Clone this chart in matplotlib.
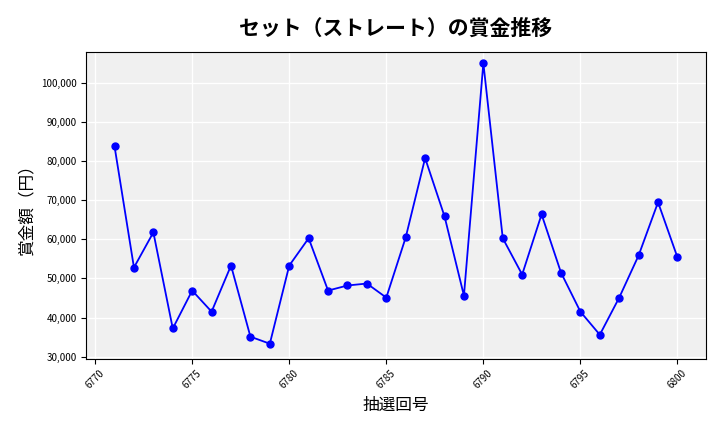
import matplotlib
matplotlib.use("Agg")
import matplotlib.pyplot as plt
from matplotlib.ticker import FuncFormatter

plt.rcParams["font.family"] = ["Noto Sans CJK JP", "DejaVu Sans"]

draws = list(range(6771, 6801))
prizes = [83800, 52800, 61800, 37200, 46900, 41500, 53300, 35100, 33300, 53300,
          60300, 46900, 48200, 48700, 45100, 60500, 80800, 65900, 45600, 105100,
          60300, 51000, 66400, 51500, 41500, 35600, 45100, 55900, 69500, 55400]

fig, ax = plt.subplots(figsize=(7.2, 4.32), dpi=100)
ax.set_facecolor("#f0f0f0")
ax.grid(True, color="white", linewidth=1)
ax.set_axisbelow(True)
ax.plot(draws, prizes, color="blue", marker="o", markersize=5, linewidth=1.3)
ax.set_title("セット（ストレート）の賞金推移", fontsize=15, fontweight="bold", pad=12)
ax.set_xlabel("抽選回号", fontsize=12)
ax.set_ylabel("賞金額（円）", fontsize=12)
ax.yaxis.set_major_formatter(FuncFormatter(lambda v, p: f"{int(v):,}"))
ax.set_xticks(range(6770, 6801, 5))
ax.set_yticks(range(30000, 100001, 10000))
ax.tick_params(axis="x", labelsize=7, rotation=45)
ax.tick_params(axis="y", labelsize=7)
ax.set_ylim(29500, 108000)
plt.subplots_adjust(left=0.12, right=0.98, top=0.88, bottom=0.17)
fig.savefig("out.png", dpi=100)
